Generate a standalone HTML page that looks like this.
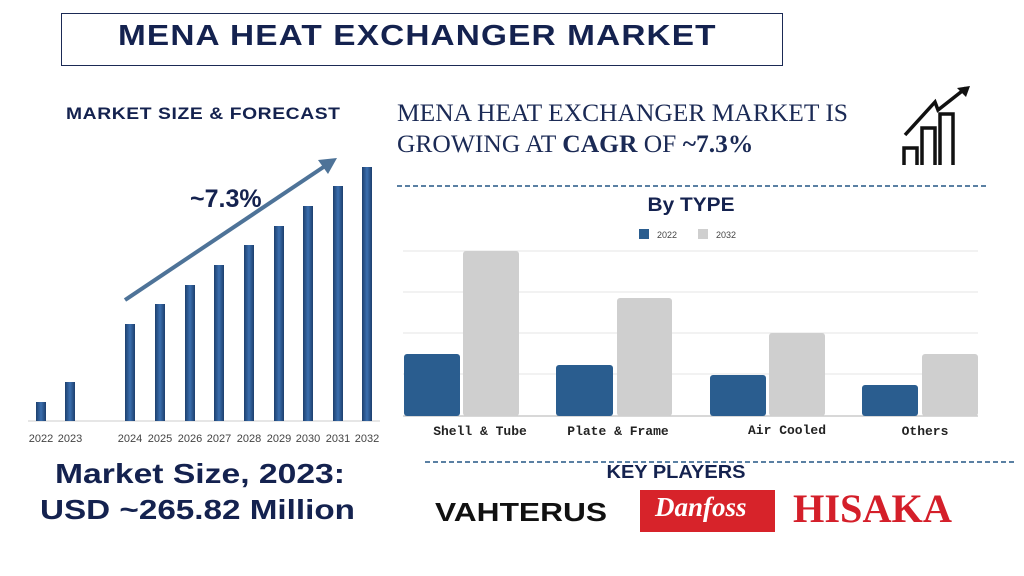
<!DOCTYPE html>
<html><head><meta charset="utf-8"><style>
body{margin:0;width:1024px;height:576px;background:#fff;position:relative;overflow:hidden;font-family:"Liberation Sans",sans-serif}
.a{position:absolute;white-space:nowrap}
</style></head><body>
<div class="a" style="left:61px;top:13px;width:720px;height:51px;border:1.5px solid #1b2a55"></div>
<div class="a" style="left:118px;top:20px;font:900 29px 'Liberation Sans',sans-serif;color:#14224f;letter-spacing:1px;transform:scaleX(1.15);transform-origin:left">MENA HEAT EXCHANGER MARKET</div>
<div class="a" style="left:66px;top:105px;font:900 16.5px 'Liberation Sans',sans-serif;color:#14224f;letter-spacing:0.5px;transform:scaleX(1.17);transform-origin:left">MARKET SIZE &amp; FORECAST</div>
<svg class="a" style="left:0;top:0" width="1024" height="576">
<defs><linearGradient id="g" x1="0" x2="1"><stop offset="0" stop-color="#1d3f6e"/><stop offset="0.5" stop-color="#3b6fae"/><stop offset="1" stop-color="#1d3f6e"/></linearGradient></defs>
<line x1="28" y1="421" x2="380" y2="421" stroke="#ccc" stroke-width="1"/>
<g fill="url(#g)">
<rect x="36" y="402" width="10" height="19"/><rect x="65" y="382" width="10" height="39"/>
<rect x="125" y="324" width="10" height="97"/><rect x="155" y="304" width="10" height="117"/>
<rect x="185" y="285" width="10" height="136"/><rect x="214" y="265" width="10" height="156"/>
<rect x="244" y="245" width="10" height="176"/><rect x="274" y="226" width="10" height="195"/>
<rect x="303" y="206" width="10" height="215"/><rect x="333" y="186" width="10" height="235"/>
<rect x="362" y="167" width="10" height="254"/></g>
<line x1="125" y1="300" x2="328" y2="164" stroke="#4e7398" stroke-width="4"/>
<polygon points="337,158 318,160 328,174" fill="#4e7398"/>
<text x="190" y="207" font-family="Liberation Sans" font-weight="bold" font-size="25" fill="#14224f">~7.3%</text>
<g font-family="Liberation Sans" font-size="11" fill="#444" text-anchor="middle">
<text x="41" y="442">2022</text><text x="70" y="442">2023</text><text x="130" y="442">2024</text><text x="160" y="442">2025</text><text x="190" y="442">2026</text><text x="219" y="442">2027</text><text x="249" y="442">2028</text><text x="279" y="442">2029</text><text x="308" y="442">2030</text><text x="338" y="442">2031</text><text x="367" y="442">2032</text></g>
<line x1="397" y1="186" x2="988" y2="186" stroke="#5a80a3" stroke-width="2" stroke-dasharray="5,3"/>
<line x1="425" y1="462" x2="1015" y2="462" stroke="#5a80a3" stroke-width="2" stroke-dasharray="5,3"/>
<g stroke="#e4e4e4"><line x1="403" y1="251" x2="978" y2="251"/><line x1="403" y1="292" x2="978" y2="292"/><line x1="403" y1="333" x2="978" y2="333"/><line x1="403" y1="374" x2="978" y2="374"/></g>
<line x1="403" y1="416" x2="978" y2="416" stroke="#ccc" stroke-width="1.5"/>
<g fill="#2a5d8f"><rect x="404" y="354" width="56" height="62" rx="3"/><rect x="556" y="365" width="57" height="51" rx="3"/><rect x="710" y="375" width="56" height="41" rx="3"/><rect x="862" y="385" width="56" height="31" rx="3"/></g>
<g fill="#cfcfcf"><rect x="463" y="251" width="56" height="165" rx="3"/><rect x="617" y="298" width="55" height="118" rx="3"/><rect x="769" y="333" width="56" height="83" rx="3"/><rect x="922" y="354" width="56" height="62" rx="3"/></g>
<text x="691" y="211" text-anchor="middle" font-family="Liberation Sans" font-weight="900" font-size="19" fill="#14224f" textLength="87" lengthAdjust="spacingAndGlyphs">By TYPE</text>
<rect x="639" y="229" width="10" height="10" fill="#2a5d8f"/><text x="657" y="238" font-family="Liberation Sans" font-size="9" fill="#444">2022</text>
<rect x="698" y="229" width="10" height="10" fill="#cfcfcf"/><text x="716" y="238" font-family="Liberation Sans" font-size="9" fill="#444">2032</text>
<g font-family="Liberation Mono" font-weight="bold" font-size="13" fill="#222" text-anchor="middle">
<text x="480" y="435">Shell &amp; Tube</text><text x="618" y="435">Plate &amp; Frame</text><text x="787" y="434">Air Cooled</text><text x="925" y="435">Others</text></g>
<g fill="none" stroke="#111" stroke-width="3.5">
<path d="M904 165V148h13v17M922 165V128h13v37M940 165V114h13v51"/>
<path d="M905 135L935 102l3 8 28-22"/></g>
<polygon points="970,86 957,88 966,97" fill="#111"/>
<rect x="640" y="490" width="135" height="42" fill="#d7232a"/>
<text x="676" y="478" text-anchor="middle" font-family="Liberation Sans" font-weight="900" font-size="18" fill="#14224f" textLength="139" lengthAdjust="spacingAndGlyphs">KEY PLAYERS</text>
<text x="435" y="521" font-family="Liberation Sans" font-weight="900" font-size="26" fill="#111" textLength="172" lengthAdjust="spacingAndGlyphs">VAHTERUS</text>
<text x="793" y="522" font-family="Liberation Serif" font-weight="900" font-size="40" fill="#d41f2a" textLength="159" lengthAdjust="spacingAndGlyphs">HISAKA</text>
<text x="55" y="483" font-family="Liberation Sans" font-weight="bold" font-size="28" fill="#14224f" textLength="290" lengthAdjust="spacingAndGlyphs">Market Size, 2023:</text>
<text x="40" y="519" font-family="Liberation Sans" font-weight="bold" font-size="28" fill="#14224f" textLength="315" lengthAdjust="spacingAndGlyphs">USD ~265.82 Million</text>
</svg>
<div class="a" style="left:397px;top:97px;font:25.5px 'Liberation Serif',serif;color:#1b2a55;line-height:31px">MENA HEAT EXCHANGER MARKET IS<br>GROWING AT <b>CAGR</b> OF <b>~7.3%</b></div>
<div class="a" style="left:655px;top:492px;font:italic bold 27px 'Liberation Serif',serif;color:#fff">Danfoss</div>
</body></html>
